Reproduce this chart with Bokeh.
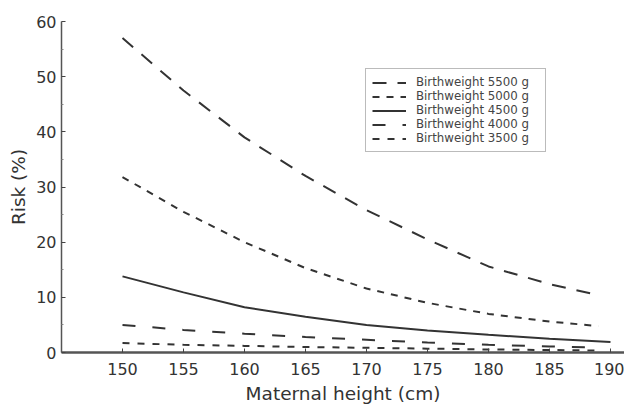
from bokeh.plotting import figure
from bokeh.models import FixedTicker, Legend, LegendItem
from bokeh.embed import file_html
from bokeh.resources import INLINE

# Data (maternal height in cm, risk in %)
height_5500 = [150, 155, 160, 165, 170, 175, 180, 185, 188.4]
risk_5500 = [57.0, 47.5, 39.0, 32.0, 25.8, 20.5, 15.6, 12.4, 10.7]

height_5000 = [150, 155, 160, 165, 170, 175, 180, 185, 189]
risk_5000 = [31.8, 25.5, 20.0, 15.3, 11.6, 9.0, 7.0, 5.6, 4.8]

height_4500 = [150, 155, 160, 165, 170, 175, 180, 185, 190]
risk_4500 = [13.8, 10.9, 8.2, 6.5, 5.0, 4.0, 3.2, 2.5, 1.9]

height_4000 = [150, 155, 160, 165, 170, 175, 180, 185, 189]
risk_4000 = [5.0, 4.1, 3.4, 2.8, 2.3, 1.8, 1.4, 1.1, 0.9]

height_3500 = [150, 155, 160, 165, 170, 175, 180, 185, 189]
risk_3500 = [1.7, 1.4, 1.2, 1.0, 0.85, 0.7, 0.55, 0.45, 0.35]

labels = ["Birthweight 5500 g", "Birthweight 5000 g", "Birthweight 4500 g",
          "Birthweight 4000 g", "Birthweight 3500 g"]
x_ticks = [150, 155, 160, 165, 170, 175, 180, 185, 190]
y_ticks = [0, 10, 20, 30, 40, 50, 60]
y_minor = [5, 15, 25, 35, 45, 55]

FONT = "DejaVu Sans"
LINE = "#333333"

p = figure(frame_width=563, frame_height=331, x_range=(145, 191.15), y_range=(0, 60),
           output_backend="svg", toolbar_location=None,
           min_border_left=61, min_border_right=0, min_border_top=21, min_border_bottom=10)
p.outline_line_color = None
p.xgrid.visible = False
p.ygrid.visible = False
p.background_fill_color = "white"

series = [
    (height_5500, risk_5500, "14 11"),
    (height_5000, risk_5000, "7 7"),
    (height_4500, risk_4500, "solid"),
    (height_4000, risk_4000, "13 17"),
    (height_3500, risk_3500, "7 8"),
]
renderers = []
for xs, ys, dash in series:
    r = p.line(xs, ys, line_color=LINE, line_width=2, line_dash=dash)
    renderers.append(r)

legend = Legend(items=[LegendItem(label=l, renderers=[r]) for l, r in zip(labels, renderers)],
                location=(304, 200))
legend.label_text_font = FONT
legend.label_text_font_size = "11.8px"
legend.label_text_color = "#444444"
legend.label_height = 13
legend.glyph_height = 13
legend.glyph_width = 34
legend.label_width = 123
legend.label_standoff = 10
legend.spacing = 0
legend.padding = 6
legend.margin = 0
legend.border_line_color = "#777777"
legend.border_line_width = 1.5
legend.background_fill_alpha = 1
p.add_layout(legend)

p.xaxis.ticker = FixedTicker(ticks=x_ticks)
p.yaxis.ticker = FixedTicker(ticks=y_ticks, minor_ticks=y_minor)

for ax in (p.xaxis[0], p.yaxis[0]):
    ax.axis_line_color = "#555555"
    ax.axis_line_width = 1.5
    ax.major_tick_line_color = "#444444"
    ax.major_tick_in = 4
    ax.major_tick_out = 0
    ax.minor_tick_line_color = "#888888"
    ax.minor_tick_in = 2
    ax.minor_tick_out = 0
    ax.major_label_text_font = FONT
    ax.major_label_text_font_size = "16px"
    ax.major_label_text_color = "#333333"
    ax.axis_label_text_font = FONT
    ax.axis_label_text_font_size = "18.5px"
    ax.axis_label_text_font_style = "normal"
    ax.axis_label_text_color = "#333333"

p.xaxis.axis_line_width = 2.5
p.xaxis.minor_tick_line_color = None
p.xaxis.axis_label = "Maternal height (cm)"
p.yaxis.axis_label = "Risk (%)"
p.xaxis.major_label_standoff = 10
p.xaxis.axis_label_standoff = 5
p.yaxis.major_label_standoff = 5
p.yaxis.axis_label_standoff = 4

open("out.html", "w").write(file_html(p, INLINE))
